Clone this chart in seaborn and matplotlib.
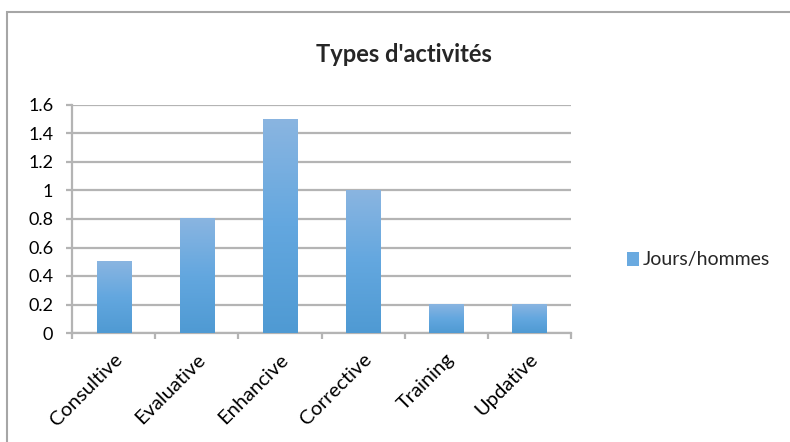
import numpy as np
import pandas as pd
import matplotlib
matplotlib.use("Agg")
import matplotlib.pyplot as plt
import matplotlib.transforms as mtransforms
import seaborn as sns
from matplotlib.colors import LinearSegmentedColormap
from matplotlib.patches import Patch, Rectangle

# data
categories = ["Consultive", "Evaluative", "Enhancive", "Corrective", "Training", "Updative"]
jours_hommes = [0.5, 0.8, 1.5, 1.0, 0.2, 0.2]
y_ticks = [0, 0.2, 0.4, 0.6, 0.8, 1.0, 1.2, 1.4, 1.6]
y_tick_labels = ["0", "0.2", "0.4", "0.6", "0.8", "1", "1.2", "1.4", "1.6"]
series_name = "Jours/hommes"
title = "Types d'activités"

df = pd.DataFrame({"type": categories, "jours": jours_hommes})

sns.set_style("white")
plt.rcParams["font.family"] = ["Lato", "DejaVu Sans"]

W, H = 790, 442
fig = plt.figure(figsize=(W / 100, H / 100), dpi=100)
ax = fig.add_axes([72 / W, 1 - 333 / H, (571 - 72) / W, (333 - 105) / H])

grid_col = "#b4b4b4"
top_col = "#8ab5e1"
bot_col = "#4f9ad3"

sns.barplot(data=df, x="type", y="jours", ax=ax, width=0.41, color="#6aaae0",
            saturation=1, zorder=3)

# Excel-like vertical gradient in each bar
cmap = LinearSegmentedColormap.from_list("bar", [bot_col, "#63a7df", top_col])
grad = np.linspace(0, 1, 256).reshape(-1, 1)
for p in ax.patches:
    x0, y0 = p.get_x(), p.get_y()
    w, h = p.get_width(), p.get_height()
    p.set_facecolor("none")
    p.set_edgecolor("none")
    ax.imshow(grad, extent=[x0, x0 + w, y0, y0 + h], origin="lower",
              aspect="auto", cmap=cmap, zorder=3, interpolation="bilinear")

ax.set_xlim(-0.5, len(categories) - 0.5)
ax.set_ylim(0, 1.6)
ax.set_yticks(y_ticks)
ax.set_yticklabels(y_tick_labels)
ax.set_xlabel("")
ax.set_ylabel("")

ax.set_axisbelow(True)
ax.yaxis.grid(True, color=grid_col, linewidth=1.6, zorder=0)
ax.xaxis.grid(False)

for s in ["top", "right"]:
    ax.spines[s].set_visible(False)
for s in ["left", "bottom"]:
    ax.spines[s].set_color(grid_col)
    ax.spines[s].set_linewidth(1.6)

ax.tick_params(axis="y", length=4.5, width=1.6, color=grid_col, pad=9,
               labelsize=13, labelcolor="black", left=True)
ax.set_xticks(np.arange(-0.5, len(categories), 1), minor=True)
ax.tick_params(axis="x", which="minor", length=4.5, width=1.6, color=grid_col,
               bottom=True)
ax.tick_params(axis="x", which="major", length=0, pad=17, labelsize=14.5,
               labelcolor="black")
# nudge rotated labels a little to the right, as Excel does
shift = mtransforms.ScaledTranslation(4 / 72, 0, fig.dpi_scale_trans)
for lab in ax.get_xticklabels():
    lab.set_rotation(45)
    lab.set_ha("right")
    lab.set_va("center")
    lab.set_rotation_mode("anchor")
    lab.set_transform(lab.get_transform() + shift)

fig.text(404 / W, 1 - 55 / H, title, ha="center", va="center",
         fontsize=17, fontweight="bold")

handle = Patch(facecolor="#6aaae0", edgecolor="none")
fig.legend([handle], [series_name], loc="center left",
           bbox_to_anchor=(617 / W, 1 - 260 / H), frameon=False,
           handlelength=0.65, handleheight=0.7, handletextpad=0.15,
           borderpad=0, fontsize=14)

fig.add_artist(Rectangle((7 / W, -0.1), 1.2, (1 - 11.5 / H) + 0.1,
                         transform=fig.transFigure, fill=False,
                         edgecolor="#a6a6a6", linewidth=1.5))

fig.savefig("out.png", dpi=100)
